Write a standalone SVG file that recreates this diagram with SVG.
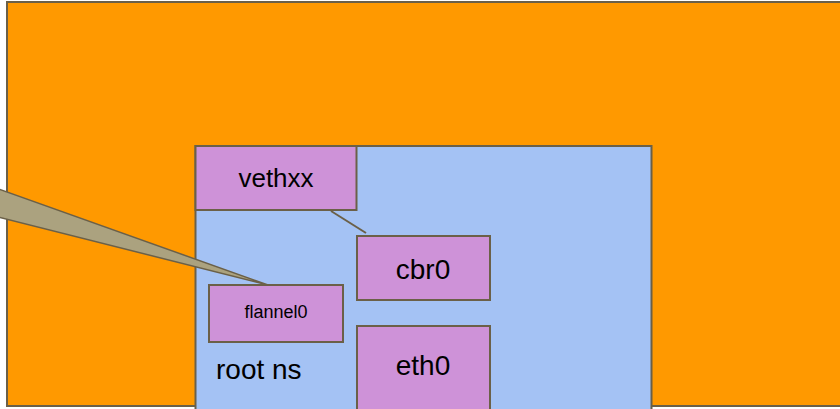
<svg xmlns="http://www.w3.org/2000/svg" width="840" height="409" viewBox="0 0 840 409">
<style>
.box{stroke:#6b6048;stroke-width:2}
.iface{fill:#ce92d8}
.t{font-family:"Liberation Sans",Arial,sans-serif;fill:#000;text-anchor:middle}
</style>
<rect x="0" y="0" width="840" height="409" fill="#ffffff"/>
<g id="host">
<rect class="box" x="7" y="2" width="840" height="404" fill="#ff9900"/>
</g>
<g id="root-ns">
<rect class="box" x="195.5" y="146" width="456" height="266" fill="#a4c2f4"/>
<text x="216" y="379" font-size="28" font-family="Liberation Sans, Arial, sans-serif" fill="#000">root ns</text>
</g>
<g id="vethxx">
<rect class="box iface" x="195.5" y="146" width="161" height="64"/>
<text class="t" x="276" y="187" font-size="26">vethxx</text>
</g>
<g id="cbr0">
<rect class="box iface" x="357" y="236" width="133" height="64"/>
<text class="t" x="423" y="279" font-size="28">cbr0</text>
</g>
<g id="flannel0">
<rect class="box iface" x="209" y="285" width="134" height="57"/>
<text class="t" x="276" y="318" font-size="18">flannel0</text>
</g>
<g id="eth0">
<rect class="box iface" x="357" y="326" width="133" height="86"/>
<text class="t" x="423" y="375" font-size="28">eth0</text>
</g>
<g id="connectors">
<line x1="331" y1="211" x2="366" y2="233" stroke="#6b6048" stroke-width="2"/>
<polygon points="-10,186 268,285 -10,215" fill="#aba27f" stroke="#6b6048" stroke-width="1.5" stroke-linejoin="miter"/>
</g>
</svg>
